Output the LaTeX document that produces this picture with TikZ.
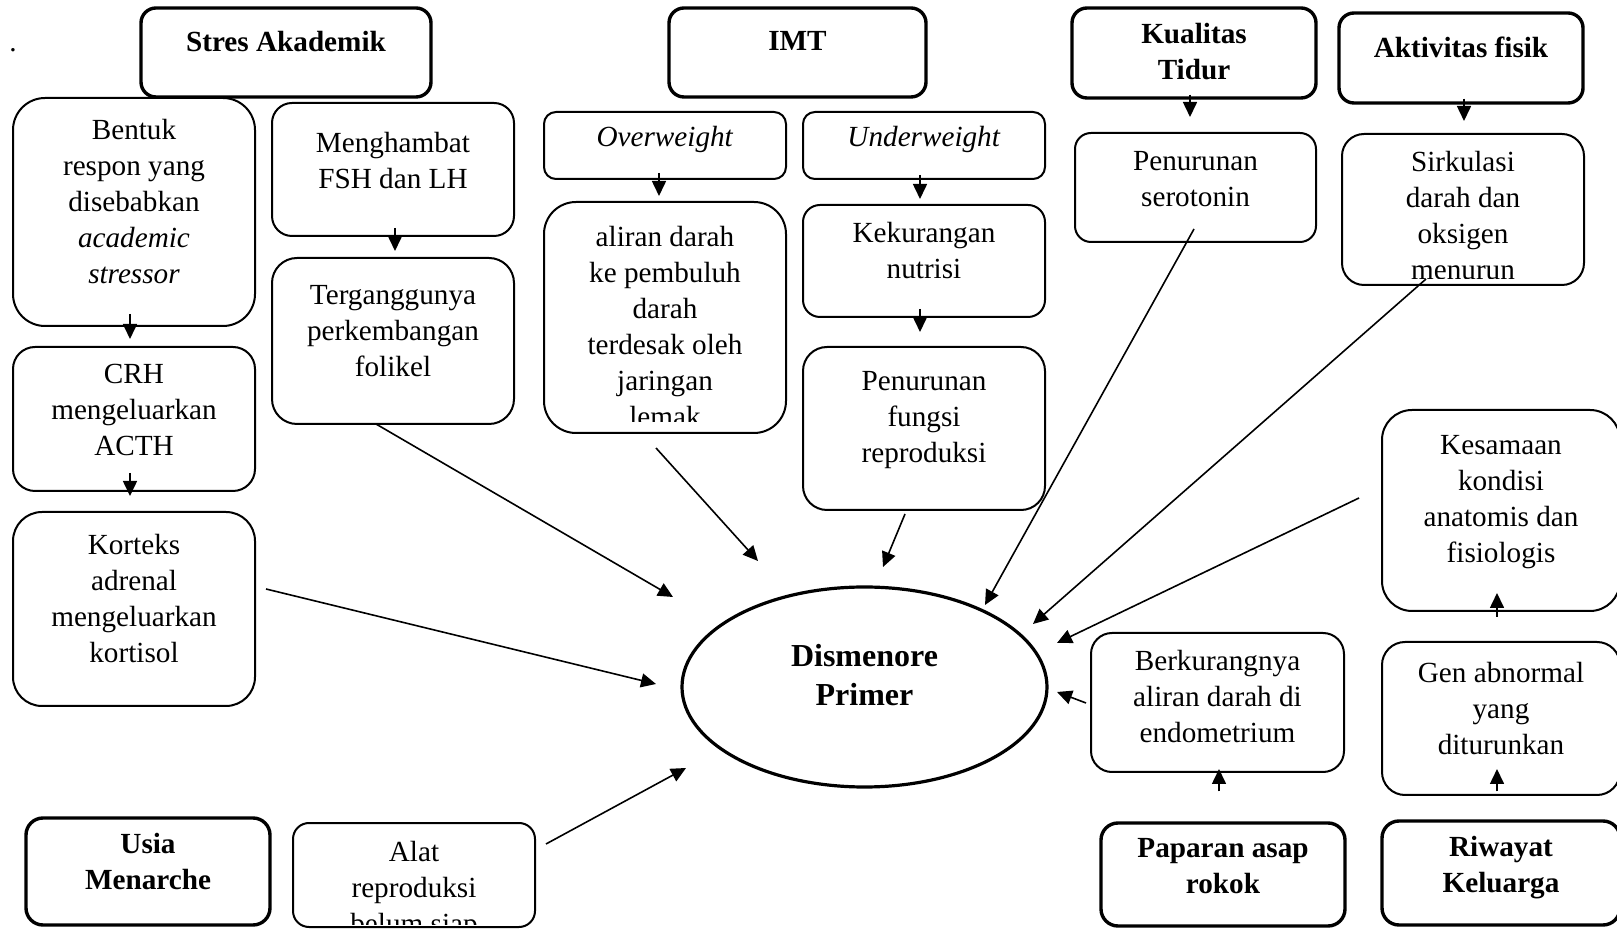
\documentclass[tikz,border=0pt]{standalone}
\usepackage{fontspec}
\setmainfont{Liberation Serif}
\usetikzlibrary{arrows.meta,positioning,calc,shapes.geometric}

\tikzset{
	factor/.style={draw, line width=1.7pt, rounded corners=#1, inner sep=0pt},
	effect/.style={draw, line width=1pt, rounded corners=#1, inner sep=0pt},
	boxtext/.style={align=center, inner sep=0pt, font=\fontsize{14.6}{18}\selectfont},
	headtext/.style={align=center, inner sep=0pt, font=\fontsize{14.6}{18}\selectfont\bfseries},
}

\begin{document}
\begin{tikzpicture}[x=0.5pt,y=-0.5pt]
		\path[use as bounding box, fill=white] (0,0) rectangle (1617,929);
		\node[inner sep=0pt, font=\fontsize{14.6}{18}\selectfont] (dot) at (13,50) {.};
		% factors
		\node[factor=7.5pt, minimum width=145pt, minimum height=44.5pt] (stres) at (286,52.5) {};
		\node[factor=7.5pt, minimum width=128.5pt, minimum height=44.5pt] (imt) at (797.5,52.5) {};
		\node[factor=7.5pt, minimum width=122pt, minimum height=45pt] (tidur) at (1194,53) {};
		\node[factor=7.5pt, minimum width=122pt, minimum height=45pt] (fisik) at (1461,58) {};
		\node[factor=8.5pt, minimum width=122pt, minimum height=53.5pt] (usia) at (148,871.5) {};
		\node[factor=8.5pt, minimum width=122pt, minimum height=51.5pt] (rokok) at (1223,874.5) {};
		\node[factor=8.5pt, minimum width=119pt, minimum height=52pt] (keluarga) at (1501,873) {};
		\node[headtext, below=12.5pt of stres.north] (stresT) {Stres Akademik};
		\node[headtext, below=12.5pt of imt.north] (imtT) {IMT};
		\node[headtext, below=8.5pt of tidur.north] (tidurT) {Kualitas\\Tidur};
		\node[headtext, below=12.5pt of fisik.north] (fisikT) {Aktivitas fisik};
		\node[headtext, below=8.5pt of usia.north] (usiaT) {Usia\\Menarche};
		\node[headtext, below=8.5pt of rokok.north] (rokokT) {Paparan asap\\rokok};
		\node[headtext, below=8.5pt of keluarga.north] (keluargaT) {Riwayat\\Keluarga};
		% effects
		\node[effect=16pt, minimum width=121pt, minimum height=114pt] (bentuk) at (134,212) {};
		\node[effect=10pt, minimum width=121pt, minimum height=66.5pt] (fsh) at (393,169.5) {};
		\node[effect=12.5pt, minimum width=121pt, minimum height=83pt] (folikel) at (393,341) {};
		\node[effect=11pt, minimum width=121pt, minimum height=72pt] (crh) at (134,419) {};
		\node[effect=14.5pt, minimum width=121pt, minimum height=97pt] (kortisol) at (134,609) {};
		\node[effect=6pt, minimum width=121pt, minimum height=33.5pt] (over) at (665,145.5) {};
		\node[effect=6pt, minimum width=121pt, minimum height=33.5pt] (under) at (924,145.5) {};
		\node[effect=16pt, minimum width=121pt, minimum height=115.5pt] (lemak) at (665,317.5) {};
		\node[effect=8.5pt, minimum width=121pt, minimum height=56pt] (nutrisi) at (924,261) {};
		\node[effect=12pt, minimum width=121pt, minimum height=81.5pt] (fungsi) at (924,428.5) {};
		\node[effect=8pt, minimum width=120.5pt, minimum height=54.5pt] (serotonin) at (1195.5,187.5) {};
		\node[effect=11pt, minimum width=121pt, minimum height=75.5pt] (sirkulasi) at (1463,209.5) {};
		\node[effect=15pt, minimum width=119pt, minimum height=100.5pt] (kesamaan) at (1501,510.5) {};
		\node[effect=10.5pt, minimum width=126.5pt, minimum height=69.5pt] (endometrium) at (1217.5,702.5) {};
		\node[effect=11.5pt, minimum width=119pt, minimum height=76.5pt] (gen) at (1501,718.5) {};
		\node[effect=8pt, minimum width=121pt, minimum height=52pt] (alat) at (414,875) {};
		\node[boxtext, below=11pt of bentuk.north] (bentukT) {Bentuk\\respon yang\\disebabkan\\\textit{academic}\\\textit{stressor}};
		\node[boxtext, below=15pt of fsh.north] (fshT) {Menghambat\\FSH dan LH};
		\node[boxtext, below=14pt of folikel.north] (folikelT) {Terganggunya\\perkembangan\\folikel};
		\node[boxtext, below=9pt of crh.north] (crhT) {CRH\\mengeluarkan\\ACTH};
		\node[boxtext, below=11.5pt of kortisol.north] (kortisolT) {Korteks\\adrenal\\mengeluarkan\\kortisol};
		\node[boxtext, below=7.5pt of over.north] (overT) {\textit{Overweight}};
		\node[boxtext, below=7.5pt of under.north] (underT) {\textit{Underweight}};
		\node[boxtext, below=9pt of nutrisi.north] (nutrisiT) {Kekurangan\\nutrisi};
		\node[boxtext, below=12.5pt of fungsi.north] (fungsiT) {Penurunan\\fungsi\\reproduksi};
		\node[boxtext, below=9.5pt of serotonin.north] (serotoninT) {Penurunan\\serotonin};
		\node[boxtext, below=13pt of kesamaan.north] (kesamaanT) {Kesamaan\\kondisi\\anatomis dan\\fisiologis};
		\node[boxtext, below=9pt of endometrium.north] (endometriumT) {Berkurangnya\\aliran darah di\\endometrium};
		\node[boxtext, below=10.5pt of gen.north] (genT) {Gen abnormal\\yang\\diturunkan};
		% text cut off by its box
		\begin{scope}
			\clip (lemak.north west) rectangle ([yshift=6pt]lemak.south east);
			\node[boxtext, below=12.5pt of lemak.north] (lemakT) {aliran darah\\ke pembuluh\\darah\\terdesak oleh\\jaringan\\lemak};
		\end{scope}
		\begin{scope}
			\clip (sirkulasi.north west) rectangle ([yshift=3.5pt]sirkulasi.south east);
			\node[boxtext, below=9pt of sirkulasi.north] (sirkulasiT) {Sirkulasi\\darah dan\\oksigen\\menurun};
		\end{scope}
		\begin{scope}
			\clip (alat.north west) rectangle ([yshift=2pt]alat.south east);
			\node[boxtext, below=9.5pt of alat.north] (alatT) {Alat\\reproduksi\\belum siap};
		\end{scope}
		% centre
		\node[ellipse, draw, line width=1.6pt, minimum width=182.5pt, minimum height=100pt, inner sep=0pt] (dis) at (864.5,687) {};
		\node[align=center, inner sep=0pt, font=\fontsize{16}{19.5}\selectfont\bfseries] (disT) at (864.5,675.5) {Dismenore\\Primer};
		%
		\path[->,line width=0.8pt,>={Triangle[length=7.5pt,width=7pt]}]
		% vertical arrows
		([xshift=-2pt,yshift=6.5pt]bentuk.south) edge ([xshift=-2pt,yshift=3.5pt]crh.north)
		([xshift=-2pt,yshift=9.5pt]crh.south) edge ([xshift=-2pt,yshift=7.5pt]kortisol.north)
		([xshift=1pt,yshift=4.5pt]fsh.south) edge ([xshift=1pt,yshift=3pt]folikel.north)
		([xshift=-3pt,yshift=3.5pt]over.south) edge ([xshift=-3pt,yshift=2.5pt]lemak.north)
		([xshift=-2pt,yshift=2.5pt]under.south) edge ([xshift=-2pt,yshift=2.5pt]nutrisi.north)
		([xshift=-2pt,yshift=4.5pt]nutrisi.south) edge ([xshift=-2pt,yshift=7pt]fungsi.north)
		([xshift=-2pt,yshift=2.5pt]tidur.south) edge ([xshift=-2.75pt,yshift=7.5pt]serotonin.north)
		([xshift=1.5pt,yshift=3pt]fisik.south) edge ([xshift=0.5pt,yshift=6pt]sirkulasi.north)
		([xshift=-2pt,yshift=15pt]rokok.north) edge ([xshift=0.75pt,yshift=2pt]endometrium.south)
		([xshift=-2pt,yshift=14pt]keluarga.north) edge ([xshift=-2pt,yshift=13.5pt]gen.south)
		([xshift=-2pt,yshift=12pt]gen.north) edge ([xshift=-2pt,yshift=9.5pt]kesamaan.south)
		% arrows to the centre
		($(folikel.south)+(-17,-1)$) edge ($(dis)+(-191.5,-90)$)
		($(kortisol.east)+(10,-20)$) edge ($(dis)+(-208.5,-3)$)
		($(lemak.south)+(-9,14)$) edge ($(dis)+(-106.5,-126)$)
		($(fungsi.south)+(-19,3)$) edge ($(dis)+(18.5,-120)$)
		($(serotonin.south)+(-1.5,-14)$) edge ($(dis)+(120.5,-82)$)
		($(sirkulasi.south)+(-37,-7)$) edge ($(dis)+(168.5,-63)$)
		($(kesamaan.west)+(-22,-12.5)$) edge ($(dis)+(192.5,-44)$)
		($(endometrium.west)+(-4,0.5)$) edge ($(dis)+(192.5,5)$)
		($(alat.east)+(10,-31)$) edge ($(dis)+(-178.5,81)$);
	\end{tikzpicture}
\end{document}
